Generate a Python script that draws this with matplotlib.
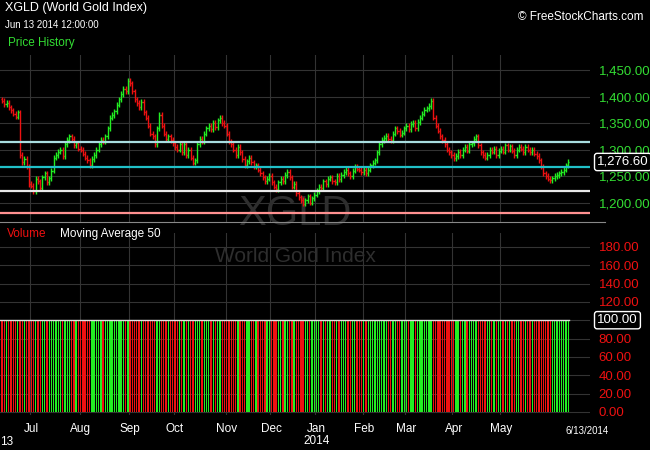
import numpy as np
import matplotlib.pyplot as plt

plt.rcParams["font.family"] = ["Liberation Sans", "DejaVu Sans"]

# daily closes, Jun 14 2013 .. Jun 13 2014, grouped by month
jun13 = [1392, 1386, 1388, 1380, 1374, 1368, 1362, 1370, 1290, 1276, 1282, 1268, 1235]
jul = [1232, 1222, 1245, 1240, 1228, 1248, 1255, 1238, 1246, 1260, 1285, 1290, 1296, 1300, 1288, 1310, 1318, 1325, 1320, 1308, 1312, 1302]
aug = [1300, 1292, 1285, 1280, 1270, 1282, 1290, 1300, 1310, 1318, 1315, 1325, 1340, 1360, 1365, 1372, 1385, 1395, 1405, 1415, 1410, 1430]
sep = [1425, 1410, 1395, 1388, 1380, 1390, 1370, 1360, 1345, 1330, 1325, 1310, 1340, 1365, 1345, 1330, 1320, 1325, 1318, 1312]
oct_ = [1305, 1300, 1310, 1295, 1310, 1290, 1300, 1285, 1275, 1280, 1310, 1320, 1315, 1330, 1340, 1345, 1338, 1350, 1342, 1355, 1360, 1350, 1345]
nov = [1330, 1315, 1310, 1300, 1290, 1305, 1295, 1282, 1270, 1278, 1285, 1276, 1268, 1270, 1262, 1255, 1248, 1240, 1245, 1250]
dec = [1238, 1230, 1225, 1238, 1245, 1240, 1252, 1258, 1248, 1230, 1235, 1218, 1210, 1205, 1198, 1204, 1212, 1200, 1208, 1215]
jan = [1222, 1230, 1228, 1240, 1235, 1245, 1248, 1240, 1238, 1250, 1244, 1252, 1258, 1262, 1255, 1250, 1260, 1268, 1264, 1262, 1258]
feb = [1262, 1255, 1262, 1270, 1275, 1280, 1295, 1310, 1318, 1322, 1326, 1320, 1318, 1330, 1340, 1335, 1328, 1332, 1340]
mar = [1345, 1338, 1348, 1350, 1340, 1352, 1360, 1368, 1375, 1378, 1382, 1392, 1360, 1345, 1336, 1325, 1318, 1310, 1300, 1295, 1290]
apr = [1284, 1288, 1296, 1290, 1300, 1305, 1298, 1310, 1312, 1320, 1325, 1308, 1295, 1290, 1285, 1290, 1300, 1296, 1302, 1290, 1298]
may = [1302, 1296, 1308, 1300, 1306, 1298, 1290, 1300, 1305, 1302, 1295, 1305, 1300, 1295, 1300, 1292, 1288, 1280, 1268, 1255, 1250]
jun14 = [1245, 1242, 1246, 1250, 1252, 1255, 1258, 1262, 1270, 1276.6]

months = [jun13, jul, aug, sep, oct_, nov, dec, jan, feb, mar, apr, may, jun14]
month_labels = ["Jul", "Aug", "Sep", "Oct", "Nov", "Dec", "Jan", "Feb", "Mar", "Apr", "May"]
level_lines = [1315, 1267, 1222, 1180]
level_colors = ["#a8dde0", "#20c0c8", "#e8e8e8", "#ff9090"]
volume_level = 100

closes = np.array([c for m in months for c in m], dtype=float)
opens = np.concatenate([[1395], closes[:-1]])
highs = np.maximum(opens, closes) + 5
lows = np.minimum(opens, closes) - 5
n = len(closes)
x = np.arange(n)
up = closes >= opens
colors = np.where(up, "#22ee22", "#ee1111")
month_starts = np.cumsum([len(m) for m in months])[:-2]

GREEN = "#33dd33"
GRID = "#333333"
WATER = "#2e2e2e"

fig = plt.figure(figsize=(6.5, 4.5), dpi=100, facecolor="black")
ax = fig.add_axes([0, 0.507, 0.908, 0.371], facecolor="black")
axv = fig.add_axes([0, 0.078, 0.908, 0.404], facecolor="black")

xlim = (-0.9, 261.8)
for a in (ax, axv):
    a.set_xlim(*xlim)
    for s in a.spines.values():
        s.set_visible(False)
    for m in month_starts:
        a.axvline(m - 0.5, color=GRID, lw=0.8, zorder=0)
    a.set_xticks([])

# price panel
ax.set_ylim(1163.7, 1478.6)
for p in range(1200, 1451, 50):
    ax.axhline(p, color=GRID, lw=0.8, zorder=0)
ax.vlines(x, lows, highs, colors=colors, lw=1, zorder=2)
ax.hlines(opens, x - 0.5, x, colors=colors, lw=1, zorder=2)
ax.hlines(closes, x, x + 0.5, colors=colors, lw=1, zorder=2)
for lv, lc in zip(level_lines, level_colors):
    ax.axhline(lv, color=lc, lw=1.6, zorder=3)
ax.yaxis.tick_right()
ax.set_yticks(range(1200, 1451, 50))
ax.set_yticklabels([f"{p:,.2f}" for p in range(1200, 1451, 50)], color=GREEN, fontsize=9.5)
ax.tick_params(axis="y", length=0, pad=6)
ax.text(0.5, 0.05, "XGLD", transform=ax.transAxes, ha="center", va="center",
        fontsize=30, color=WATER, zorder=1)
ax.annotate("1,276.60", xy=(1.0, closes[-1]), xycoords=("axes fraction", "data"),
            xytext=(5, 0), textcoords="offset points", color="white", fontsize=9.5, va="center",
            bbox=dict(boxstyle="round,pad=0.2", fc="black", ec="white", lw=1), zorder=5)

# volume panel
axv.set_ylim(-3.3, 195)
for v in range(0, 181, 20):
    axv.axhline(v, color=GRID, lw=0.8, zorder=0)
axv.bar(x, [volume_level] * n, width=0.6, color=colors, zorder=2)
axv.axhline(volume_level, color="#dddddd", lw=1, xmax=(n - 0.5 - xlim[0]) / (xlim[1] - xlim[0]), zorder=3)
axv.yaxis.tick_right()
vt = [v for v in range(0, 181, 20) if v != 100]
axv.set_yticks(vt)
axv.set_yticklabels([f"{v:.2f}" for v in vt], color="#ee1111", fontsize=9.5)
axv.tick_params(axis="y", length=0, pad=6)
axv.annotate("100.00", xy=(1.0, 100), xycoords=("axes fraction", "data"),
             xytext=(5, 0), textcoords="offset points", color="white", fontsize=9.5, va="center",
             bbox=dict(boxstyle="round,pad=0.2", fc="black", ec="white", lw=1))
axv.text(0.5, 0.87, "World Gold Index", transform=axv.transAxes, ha="center", va="center",
         fontsize=15, color=WATER, zorder=1)
for m, lab in zip(month_starts, month_labels):
    axv.text(m, -12, lab, ha="center", va="top", color="white", fontsize=8.5)
axv.text(month_starts[6], -25, "2014", ha="center", va="top", color="white", fontsize=8.5)

# separator and headers
fig.add_artist(plt.Line2D([0, 605 / 650], [1 - 222 / 450] * 2, color="#888888", lw=0.8))
fig.text(5 / 650, 1 - 8 / 450, "XGLD (World Gold Index)", color="white", fontsize=9, va="center")
fig.text(5 / 650, 1 - 25 / 450, "Jun 13 2014 12:00:00", color="white", fontsize=7, va="center")
fig.text(643 / 650, 1 - 17 / 450, "© FreeStockCharts.com", color="white", fontsize=8.5,
         va="center", ha="right")
fig.text(8 / 650, 1 - 43 / 450, "Price History", color=GREEN, fontsize=8.5, va="center")
fig.text(7 / 650, 1 - 234 / 450, "Volume", color="#ee1111", fontsize=8.5, va="center")
fig.text(60 / 650, 1 - 234 / 450, "Moving Average 50", color="white", fontsize=8.5, va="center")
fig.text(0, 1 - 442 / 450, "13", color="white", fontsize=8.5, va="center")
fig.text(565 / 650, 1 - 431 / 450, "6/13/2014", color="white", fontsize=7, va="center")

fig.savefig("out.png", dpi=100, facecolor="black")
